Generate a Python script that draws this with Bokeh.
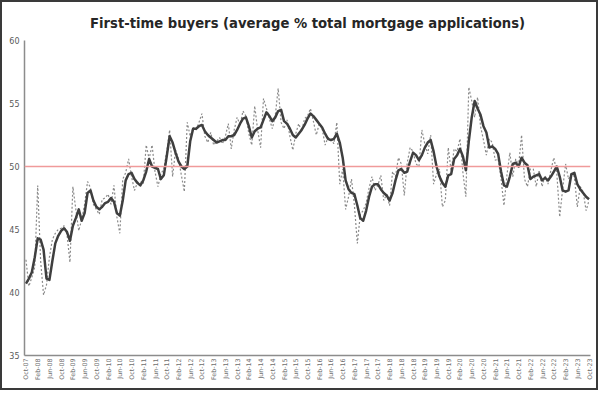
from bokeh.plotting import figure
from bokeh.models import Range1d, FixedTicker, Span
from bokeh.embed import file_html
from bokeh.resources import INLINE

# Monthly share of first-time buyers (% of mortgage applications), Oct-07 .. Oct-23
monthly = [
    42.6, 40.5, 41.2, 42.0, 48.5, 42.5, 39.8, 40.6, 42.8, 44.2, 44.7, 45.0,
    45.1, 45.3, 44.6, 42.4, 48.4, 46.6, 44.9, 45.8, 47.0, 48.8, 48.3, 47.0,
    46.6, 46.2, 47.4, 47.5, 47.8, 47.0, 48.5, 46.0, 44.7, 49.0, 49.5, 50.6,
    49.2, 48.1, 48.7, 48.8, 48.6, 51.7, 50.6, 51.7, 49.6, 48.4, 49.4, 49.8,
    51.2, 52.9, 49.2, 51.3, 50.6, 49.3, 48.0, 53.5, 52.4, 53.1, 52.9, 53.5,
    54.2, 52.4, 51.9, 52.7, 51.7, 52.0, 52.3, 51.8, 52.4, 53.4, 51.4, 52.9,
    53.9, 53.3, 54.4, 54.0, 52.6, 51.7, 54.8, 52.9, 51.5, 55.4, 54.6, 53.8,
    53.0, 54.0, 56.2, 53.5, 53.0, 53.7, 52.4, 51.3, 52.6, 53.4, 52.8, 53.8,
    54.0, 54.6, 53.6, 52.5, 53.4, 53.0, 51.7, 52.3, 52.2, 51.8, 53.5, 48.6,
    49.8, 46.6, 47.6, 49.0, 46.9, 43.9, 46.2, 46.5, 47.1, 48.3, 49.2, 48.1,
    48.5, 49.3, 47.3, 47.8, 46.9, 49.6, 49.2, 50.7, 50.2, 47.7, 50.3, 51.5,
    51.2, 50.2, 50.0, 52.9, 51.8, 51.0, 52.5, 48.6, 49.4, 49.8, 46.8, 47.3,
    51.5, 49.6, 51.4, 51.2, 52.2, 49.5, 47.6, 56.3, 55.2, 53.9, 55.5, 53.2,
    52.1, 50.9, 52.2, 51.9, 50.5, 50.6, 49.0, 46.9, 49.3, 51.1, 49.2, 50.6,
    50.1, 52.5, 49.0, 48.4, 49.8, 49.8, 48.4, 49.7, 48.4, 49.3, 48.6, 49.7,
    50.7, 49.5, 46.0, 48.2, 50.2, 49.0, 49.4, 49.2, 46.8, 48.4, 48.0, 46.5,
    47.3,
]

# Three-month average
three_month = [
    40.7, 41.1, 41.6, 42.8, 44.3, 44.2, 43.4, 41.1, 41.0, 42.5, 43.9, 44.5,
    44.9, 45.1, 44.8, 44.1, 45.3, 45.9, 46.6, 45.7, 46.3, 47.9, 48.1, 47.3,
    46.8, 46.6, 46.8, 47.1, 47.2, 47.5, 47.2, 46.3, 46.1, 47.3, 48.9, 49.4,
    49.5, 49.0, 48.7, 48.5, 48.9, 49.6, 50.6, 50.0, 49.9, 49.8, 49.0, 49.3,
    50.8, 52.4, 51.9, 51.1, 50.4, 50.0, 49.8, 50.0, 52.0, 53.0, 53.0, 53.2,
    53.3, 52.8, 52.5, 52.3, 52.1, 51.9, 52.0, 52.1, 52.1, 52.4, 52.4, 52.5,
    52.9, 53.4, 53.8, 53.9, 53.2, 52.3, 52.8, 53.0, 53.1, 53.7, 54.3, 54.0,
    53.6, 53.9, 54.4, 54.5, 53.6, 53.4, 53.0, 52.5, 52.3, 52.6, 52.9, 53.3,
    53.8, 54.2, 54.0, 53.7, 53.4, 53.1, 52.6, 52.2, 52.1, 52.2, 52.6, 51.9,
    50.7, 48.9, 48.2, 47.9, 47.8, 46.9, 45.9, 45.7, 46.5, 47.6, 48.4, 48.6,
    48.6, 48.2, 47.9, 47.7, 47.3, 47.9, 48.9, 49.7, 49.8, 49.5, 49.6, 50.4,
    51.1, 50.9, 50.5, 50.9, 51.5, 51.9, 52.1, 51.2, 50.0, 49.2, 48.7, 48.4,
    49.3, 49.4, 50.6, 50.9, 51.4, 50.8, 49.7, 52.0, 53.9, 55.2, 54.6, 54.1,
    53.2, 52.7, 51.5, 51.6, 51.4, 51.0, 49.6, 48.5, 48.4, 49.2, 50.2, 50.3,
    50.0, 50.7, 50.3, 50.1, 49.0, 49.2, 49.3, 49.4, 48.9, 49.1, 48.9, 49.2,
    49.6, 50.0, 49.2, 48.1, 48.0, 48.1, 49.4, 49.5, 48.6, 48.2, 47.9, 47.6,
    47.4,
]

tick_labels = [
    "Oct-07", "Feb-08", "Jun-08", "Oct-08", "Feb-09", "Jun-09", "Oct-09",
    "Feb-10", "Jun-10", "Oct-10", "Feb-11", "Jun-11", "Oct-11", "Feb-12",
    "Jun-12", "Oct-12", "Feb-13", "Jun-13", "Oct-13", "Feb-14", "Jun-14",
    "Oct-14", "Feb-15", "Jun-15", "Oct-15", "Feb-16", "Jun-16", "Oct-16",
    "Feb-17", "Jun-17", "Oct-17", "Feb-18", "Jun-18", "Oct-18", "Feb-19",
    "Jun-19", "Oct-19", "Feb-20", "Jun-20", "Oct-20", "Feb-21", "Jun-21",
    "Oct-21", "Feb-22", "Jun-22", "Oct-22", "Feb-23", "Jun-23", "Oct-23",
]
reference_level = 50
y_ticks = [35, 40, 45, 50, 55, 60]

n = len(monthly)
x = list(range(n))
tick_pos = list(range(0, n, 4))

p = figure(width=598, height=390, output_backend="svg",
           toolbar_location=None,
           x_range=Range1d(-0.5, n - 0.5), y_range=Range1d(35, 60),
           min_border_left=22, min_border_right=10, min_border_top=38,
           min_border_bottom=37,
           title="First-time buyers (average % total mortgage applications)")

p.title.align = "center"
p.title.text_font = "DejaVu Sans"
p.title.text_font_size = "13.2px"
p.title.text_font_style = "bold"
p.title.text_color = "#262626"
p.title.offset = 0
p.title.standoff = 19

p.outline_line_color = None
p.xgrid.grid_line_color = None
p.ygrid.grid_line_color = None
p.background_fill_color = "white"
p.border_fill_color = "white"

xa = p.xaxis[0]
xa.ticker = FixedTicker(ticks=tick_pos)
xa.major_label_overrides = {t: lab for t, lab in zip(tick_pos, tick_labels)}
xa.major_label_orientation = 1.5708
xa.major_label_text_font = "DejaVu Sans"
xa.major_label_text_font_size = "6.3px"
xa.major_label_text_color = "#6e6e6e"
xa.major_label_standoff = 3
xa.major_tick_out = 0
xa.major_tick_in = 0
xa.minor_tick_out = 0
xa.minor_tick_in = 0
xa.axis_line_color = "#8c8c8c"
xa.axis_line_width = 1.5

ya = p.yaxis[0]
ya.ticker = FixedTicker(ticks=y_ticks)
ya.major_label_text_font = "DejaVu Sans"
ya.major_label_text_font_size = "8px"
ya.major_label_text_color = "#595959"
ya.major_label_standoff = 5
ya.major_tick_out = 0
ya.major_tick_in = 0
ya.minor_tick_out = 0
ya.minor_tick_in = 0
ya.axis_line_color = "#8c8c8c"
ya.axis_line_width = 1.5

p.add_layout(Span(location=reference_level, dimension="width",
                  line_color="#f09a9a", line_width=1.5))

p.line(x, monthly, line_color="#8a8a8a", line_width=1.2, line_dash="2 2")
p.line(x, three_month, line_color="#3f3f3f", line_width=2.5, line_join="round")

p.styles = {"border": "2px solid #3a3a3a"}

open("out.html", "w").write(file_html(p, INLINE))
